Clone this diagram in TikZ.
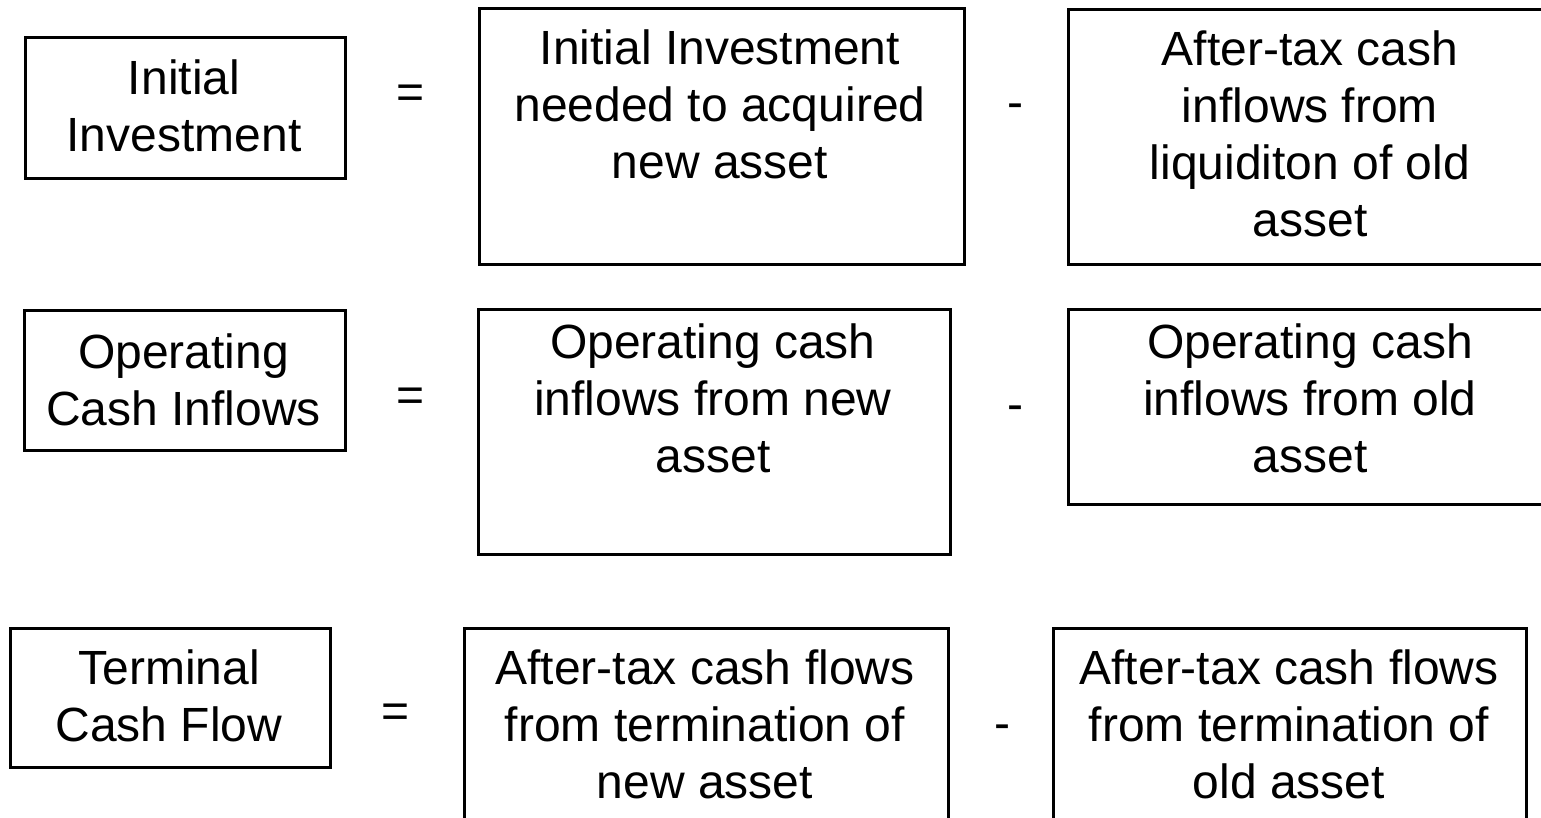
\documentclass[tikz,border=0pt]{standalone}
\usepackage{fontspec}
\setmainfont{Liberation Sans}
\begin{document}
\begin{tikzpicture}[x=1pt,y=-1pt,
  box/.style={draw=black, line width=3pt, inner sep=0pt, anchor=north west},
  txt/.style={inner sep=0pt, font=\fontsize{48}{57}\selectfont},
  op/.style={inner sep=0pt, font=\fontsize{48}{57}\selectfont}]
\useasboundingbox (0,0) rectangle (1541,818);
\clip (0,0) rectangle (1541,818);
\newcommand{\lns}[1]{\begin{tabular}{@{}c@{}}#1\end{tabular}}
% row 1
\node[box, minimum width=320pt, minimum height=141pt] (a1) at (24,36) {};
\node[txt] (a1t) at (184,112) {\lns{Initial\\Investment}};
\node[box, minimum width=485pt, minimum height=256pt] (b1) at (478,7) {};
\node[txt, anchor=north] (b1t) at (720,24) {\lns{Initial Investment\\needed to acquired\\new asset}};
\node[box, minimum width=486pt, minimum height=255pt] (c1) at (1067,8) {};
\node[txt, anchor=north] (c1t) at (1310,25) {\lns{After-tax cash\\inflows from\\liquiditon of old\\asset}};
\node[op] (eq1) at (411,97) {=};
\node[op] (mi1) at (1015,111) {-};
% row 2
\node[box, minimum width=321pt, minimum height=140pt] (a2) at (23,309) {};
\node[txt] (a2t) at (183.5,386) {\lns{Operating\\Cash Inflows}};
\node[box, minimum width=472pt, minimum height=245pt] (b2) at (477,308) {};
\node[txt, anchor=north] (b2t) at (713,318) {\lns{Operating cash\\inflows from new\\asset}};
\node[box, minimum width=486pt, minimum height=195pt] (c2) at (1067,308) {};
\node[txt, anchor=north] (c2t) at (1310,318) {\lns{Operating cash\\inflows from old\\asset}};
\node[op] (eq2) at (411,400) {=};
\node[op] (mi2) at (1015,413) {-};
% row 3
\node[box, minimum width=320pt, minimum height=139pt] (a3) at (9,627) {};
\node[txt] (a3t) at (169,702) {\lns{Terminal\\Cash Flow}};
\node[box, minimum width=484pt, minimum height=260pt] (b3) at (463,627) {};
\node[txt, anchor=north] (b3t) at (705,644) {\lns{After-tax cash flows\\from termination of\\new asset}};
\node[box, minimum width=473pt, minimum height=260pt] (c3) at (1052,627) {};
\node[txt, anchor=north] (c3t) at (1289,644) {\lns{After-tax cash flows\\from termination of\\old asset}};
\node[op] (eq3) at (396,716) {=};
\node[op] (mi3) at (1002,732) {-};
\end{tikzpicture}
\end{document}
